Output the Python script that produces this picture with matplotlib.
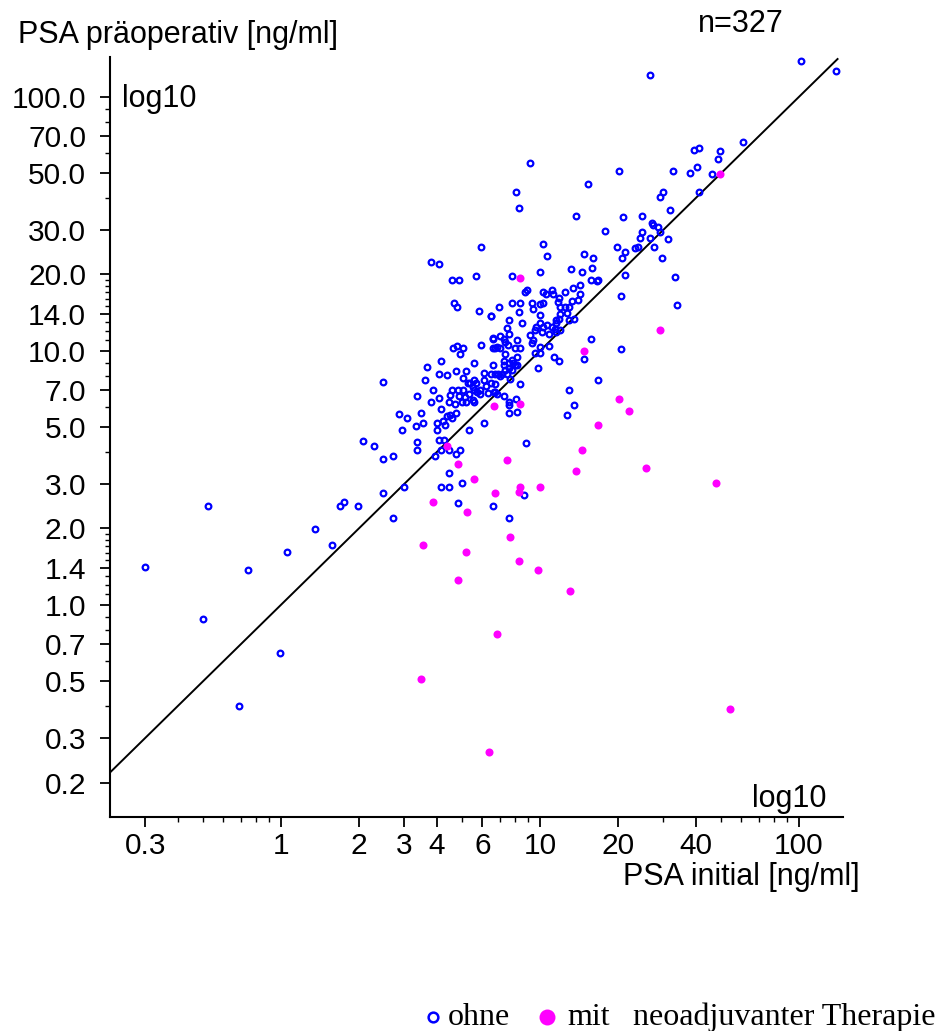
import matplotlib
matplotlib.use('Agg')
import matplotlib.pyplot as plt
import numpy as np
from matplotlib.lines import Line2D
from matplotlib.ticker import FixedLocator, FixedFormatter, NullFormatter

plt.rcParams['font.family'] = ['Liberation Sans', 'DejaVu Sans']

# ---------------- data (PSA initial, PSA praeoperativ) ----------------
ohne_points = [
    (0.30, 1.41), (0.525, 2.45), (0.50, 0.88), (0.75, 1.37), (0.69, 0.40),
    (1.06, 1.61), (0.99, 0.645), (1.35, 1.99), (1.58, 1.72), (1.69, 2.45),
    (1.76, 2.54), (1.98, 2.45), (2.48, 2.77), (2.70, 2.20), (2.99, 2.92),
    (2.08, 4.43), (4.45, 3.32), (4.15, 2.92), (4.46, 2.92), (5.01, 3.03),
    (4.85, 2.53), (6.60, 2.45), (7.59, 2.20), (8.72, 2.72),
    (4.61, 10.3), (4.78, 10.5), (5.05, 10.25), (4.93, 9.72), (5.93, 10.6),
    (6.59, 10.3), (4.15, 9.16), (3.68, 8.67), (5.56, 8.99), (6.59, 8.83),
    (4.08, 8.10), (4.38, 8.05), (4.75, 8.37), (5.19, 8.37), (2.48, 7.55),
    (3.61, 7.67), (5.06, 7.85), (5.27, 7.51), (5.58, 7.67), (5.65, 7.46),
    (6.08, 8.22), (6.47, 8.10), (6.08, 7.67), (6.47, 7.51), (3.86, 7.02),
    (4.58, 7.02), (4.81, 7.02), (4.87, 6.66), (5.03, 7.02), (5.33, 6.76),
    (5.58, 7.02), (5.88, 7.02), (6.29, 6.80), (3.36, 6.66), (4.08, 6.54),
    (3.80, 6.27), (4.45, 6.27), (4.71, 6.18), (4.99, 6.27), (5.17, 6.27),
    (5.58, 6.27), (4.15, 5.90), (2.87, 5.65), (3.48, 5.72), (3.08, 5.46),
    (4.37, 5.53), (4.48, 5.57), (4.56, 5.43), (4.76, 5.72), (4.24, 5.31),
    (3.55, 5.22), (3.32, 5.05), (4.00, 5.20), (4.31, 5.13), (4.00, 4.89),
    (2.94, 4.88), (5.31, 4.89), (6.08, 5.22), (3.36, 4.38), (3.36, 4.08),
    (4.08, 4.46), (4.27, 4.46), (4.15, 4.08), (4.45, 4.08), (4.92, 4.08),
    (4.75, 3.93), (3.94, 3.87), (2.70, 3.87), (2.48, 3.74), (2.28, 4.23),
    (6.67, 6.88),
    (5.38, 7.46), (5.54, 6.41), (5.73, 6.91), (5.88, 6.77), (6.17, 7.30),
    (5.54, 7.20), (4.50, 6.70), (5.14, 6.60), (7.24, 11.1), (6.83, 10.4),
    (7.50, 10.6), (7.91, 8.95), (8.16, 8.80), (11.5, 11.9),
    (6.72, 10.3), (7.03, 10.3), (7.34, 10.8), (8.00, 10.3), (8.39, 10.3),
    (7.34, 9.72), (9.30, 10.7), (9.60, 9.79), (10.0, 9.79), (10.85, 10.5),
    (11.3, 9.5), (11.9, 9.16), (9.80, 8.55), (7.24, 9.16), (7.57, 8.95),
    (7.82, 9.22), (8.16, 9.5), (8.00, 8.8), (7.24, 8.8), (7.57, 8.55),
    (7.82, 8.42), (7.34, 8.42), (6.72, 8.15), (6.92, 8.15), (7.15, 8.15),
    (7.46, 8.15), (7.03, 7.97), (7.68, 7.74), (8.39, 7.39), (6.72, 7.39),
    (6.72, 6.90), (6.83, 6.77), (7.24, 6.64), (8.10, 6.44), (7.57, 6.27),
    (7.57, 6.14), (7.57, 5.72), (8.16, 5.76), (12.9, 7.02), (13.6, 6.11),
    (12.7, 5.60), (14.8, 9.3), (16.7, 7.65), (8.85, 4.35), (10.0, 10.4),
    (17.9, 29.7), (10.3, 26.3), (10.7, 23.6), (14.8, 24.0), (16.1, 23.2),
    (7.84, 19.8), (10.0, 20.5), (13.2, 21.0), (14.6, 20.5), (15.9, 21.3),
    (15.8, 19.1), (16.8, 19.1), (16.6, 18.8), (19.8, 25.7), (14.3, 18.2),
    (13.4, 17.7), (12.5, 17.0), (14.0, 15.9), (13.3, 15.7), (14.3, 16.7),
    (8.75, 17.0), (8.90, 17.4), (10.3, 17.0), (10.6, 16.7), (11.1, 17.4),
    (11.2, 16.7), (11.9, 16.1), (11.7, 15.6), (7.84, 15.5), (8.39, 15.5),
    (6.96, 14.9), (9.30, 15.5), (10.0, 15.3), (10.3, 15.4), (9.40, 14.6),
    (8.27, 14.2), (10.0, 13.9), (12.0, 14.95), (12.5, 14.95), (12.9, 14.85),
    (12.7, 14.1), (12.0, 14.0), (11.9, 13.3), (12.9, 13.2), (13.6, 13.3),
    (11.5, 13.2), (10.0, 12.9), (10.3, 12.4), (10.7, 12.65), (11.1, 12.4),
    (11.5, 12.9), (9.70, 12.4), (9.60, 12.1), (10.2, 11.9), (10.8, 11.7),
    (11.4, 12.2), (12.0, 12.1), (7.57, 13.2), (7.46, 12.3), (7.03, 11.4),
    (6.62, 11.2), (7.57, 11.65), (8.16, 11.05), (9.17, 11.55), (9.40, 11.05),
    (8.51, 12.9), (15.8, 11.1), (6.50, 13.7),
    (5.95, 25.7), (3.80, 22.4), (4.07, 22.0), (5.65, 19.8), (4.58, 19.0),
    (4.87, 19.0), (4.66, 15.4), (4.78, 14.85), (5.84, 14.4), (6.49, 13.7),
    (6.59, 11.1),
    (102, 139), (139, 127), (26.7, 122), (61, 66.5), (39.4, 62), (41.1, 63),
    (49.5, 61.1), (48.7, 56.9), (46.3, 49.5), (40.4, 53), (38.1, 50.2),
    (32.7, 51.1), (41, 42.2), (9.17, 55), (20.2, 51.1), (8.12, 42.2),
    (8.27, 36.6), (15.4, 45.3), (30, 42.2), (29, 40.3), (31.7, 36.0),
    (13.8, 34.1), (20.9, 33.6), (24.9, 34.1), (27.1, 32.0), (27.4, 31.3),
    (28.7, 30.7), (29.0, 29.5), (24.9, 29.3), (24.4, 27.9), (26.7, 27.8),
    (31.2, 27.7), (23.2, 25.4), (23.9, 25.7), (27.5, 25.7), (21.3, 24.6),
    (20.8, 23.3), (29.5, 23.3), (33.3, 19.5), (33.9, 15.1), (20.5, 16.4),
    (21.3, 19.9), (20.5, 10.2),
]

mit_points = [
    (3.87, 2.54), (5.25, 2.33), (3.55, 1.72), (5.18, 1.61), (4.85, 1.25),
    (3.49, 0.51), (16.7, 5.11), (14.6, 4.06), (7.46, 3.72), (13.8, 3.36),
    (25.7, 3.47), (5.58, 3.13), (47.8, 3.02), (6.72, 2.77), (8.39, 2.92),
    (8.30, 2.79), (9.97, 2.92), (7.70, 1.85), (8.27, 1.49), (9.83, 1.37),
    (13.1, 1.13), (6.84, 0.77), (54.0, 0.39), (6.39, 0.263), (6.65, 6.05),
    (8.39, 6.18), (14.8, 10.0), (8.39, 19.4), (29.0, 12.1), (49.5, 49.5),
    (20.2, 6.44), (22.1, 5.79), (4.37, 4.23), (4.83, 3.60),
]

identity_line = [0.219, 141.0]

x_ticks = [0.3, 1, 2, 3, 4, 6, 10, 20, 40, 100]
x_ticklabels = ['0.3', '1', '2', '3', '4', '6', '10', '20', '40', '100']
x_minor = [0.4, 0.5, 0.6, 0.7, 0.8, 0.9, 5, 7, 8, 9, 30, 50, 60, 70, 80, 90]

y_ticks = [0.2, 0.3, 0.5, 0.7, 1.0, 1.4, 2.0, 3.0, 5.0, 7.0, 10.0, 14.0,
           20.0, 30.0, 50.0, 70.0, 100.0]
y_ticklabels = ['%.1f' % v for v in y_ticks]
y_minor = [0.4, 0.6, 0.8, 0.9,
           1.1, 1.2, 1.3, 1.5, 1.6, 1.7, 1.8, 1.9, 4, 6, 8, 9,
           11, 12, 13, 15, 16, 17, 18, 19, 40, 60, 80, 90]

n_text = 'n=327'

# ---------------- figure ----------------
W, H = 939, 1031
fig = plt.figure(figsize=(W / 100, H / 100), dpi=100)
ax = fig.add_axes([110 / W, 1 - 817 / H, (843 - 110) / W, (817 - 57) / H])
ax.set_xscale('log')
ax.set_yscale('log')
ax.set_xlim(0.219, 148)
ax.set_ylim(0.1463, 143.6)

ox = np.array(ohne_points)
mx = np.array(mit_points)

ax.plot(identity_line, identity_line, color='black', lw=1.4, zorder=2)
ax.plot(ox[:, 0], ox[:, 1], ls='none', marker='o', ms=4.1, mfc='none',
        mec='#0000ff', mew=1.6, zorder=3, clip_on=False)
ax.plot(mx[:, 0], mx[:, 1], ls='none', marker='o', ms=5.8, mfc='#ff00ff',
        mec='none', zorder=4, clip_on=False)

for s in ['top', 'right']:
    ax.spines[s].set_visible(False)
for s in ['left', 'bottom']:
    ax.spines[s].set_linewidth(1.5)

ax.xaxis.set_major_locator(FixedLocator(x_ticks))
ax.xaxis.set_major_formatter(FixedFormatter(x_ticklabels))
ax.xaxis.set_minor_locator(FixedLocator(x_minor))
ax.xaxis.set_minor_formatter(NullFormatter())
ax.yaxis.set_major_locator(FixedLocator(y_ticks))
ax.yaxis.set_major_formatter(FixedFormatter(y_ticklabels))
ax.yaxis.set_minor_locator(FixedLocator(y_minor))
ax.yaxis.set_minor_formatter(NullFormatter())

ax.tick_params(which='major', direction='out', length=7.2, width=1.3,
               labelsize=21.5, colors='black')
ax.tick_params(axis='x', which='major', pad=3.5)
ax.tick_params(axis='y', which='major', pad=10)
ax.tick_params(which='minor', direction='out', length=3.6, width=1.0)


def ftext(px, py, s, **kw):
    fig.text(px / W, 1 - py / H, s, va='baseline', **kw)


ftext(18, 43, 'PSA präoperativ [ng/ml]', fontsize=22)
ftext(698, 32, n_text, fontsize=22)
ftext(122, 107, 'log10', fontsize=22)
ftext(752, 807, 'log10', fontsize=22)
ftext(623, 885, 'PSA initial [ng/ml]', fontsize=22)

# legend row
fig.add_artist(Line2D([433 / W], [1 - 1017 / H], marker='o', ms=7.0, mfc='none',
                      mec='#0000ff', mew=1.8, ls='none', transform=fig.transFigure))
fig.add_artist(Line2D([547 / W], [1 - 1017 / H], marker='o', ms=11.5, mfc='#ff00ff',
                      mec='none', ls='none', transform=fig.transFigure))
serif = ['Liberation Serif', 'DejaVu Serif']
ftext(448, 1025, 'ohne', fontsize=23, family=serif)
ftext(567, 1025, 'mit', fontsize=23, family=serif)
ftext(633, 1025, 'neoadjuvanter Therapie', fontsize=23, family=serif)

fig.savefig('out.png', dpi=100)
